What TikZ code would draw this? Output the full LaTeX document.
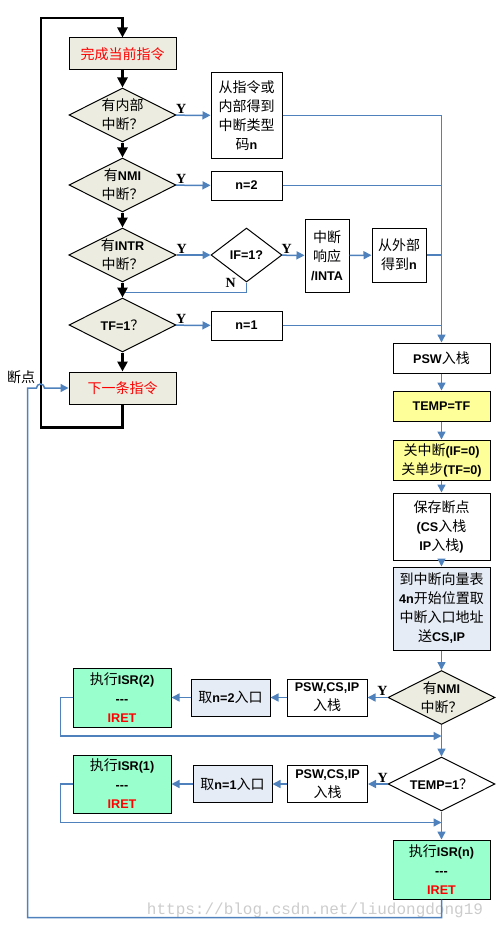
\documentclass[tikz,border=0pt]{standalone}
\usepackage{fontspec}
\setmainfont{Noto Sans CJK SC}
\newfontfamily\lat{Liberation Sans}[Scale=0.9]
\newfontfamily\ser{Liberation Serif}
\newfontfamily\wmk{Liberation Mono}
\newcommand{\la}[1]{{\lat\bfseries #1}}
\usetikzlibrary{shapes.geometric, arrows.meta}
\definecolor{flowblue}{RGB}{79,129,189}
\definecolor{stepgrey}{RGB}{236,236,224}
\definecolor{tempyellow}{RGB}{255,255,153}
\definecolor{vecblue}{RGB}{230,236,245}
\definecolor{isrgreen}{RGB}{153,255,204}

\begin{document}
\begin{tikzpicture}[x=1pt,y=-1pt,>={Triangle[length=8pt,width=8pt]},font=\fontsize{14}{19}\selectfont,
	box/.style={rectangle, draw, line width=1pt, align=center, inner sep=1pt},
	col/.style={box, minimum width=97pt},
	cond/.style={diamond, draw, line width=1pt, align=center, inner sep=0pt, aspect=2, minimum width=107pt, minimum height=54pt},
	blk/.style={line width=2.6pt, -{Triangle[length=10pt,width=10pt]}},
	blu/.style={flowblue, line width=1.5pt},
	yes/.style={font=\fontsize{14}{14}\selectfont\ser\bfseries, text=black, inner sep=1pt}]
		\useasboundingbox (0,0) rectangle (501,931);

		% left column
		\node[box, fill=stepgrey, text=red, minimum width=107pt, minimum height=32pt	] (DONE) 		at (122.5,54)		{完成当前指令};
		\node[cond, fill=stepgrey														] (INT_IN) 		at (122.5,115)		{有内部\\中断？};
		\node[cond, fill=stepgrey														] (NMI) 		at (122.5,185)		{有\la{NMI}\\中断？};
		\node[cond, fill=stepgrey														] (INTR) 		at (122.5,255)		{有\la{INTR}\\中断？};
		\node[cond, fill=stepgrey														] (TF) 			at (122.5,325)		{\la{TF=1}？};
		\node[box, fill=stepgrey, text=red, minimum width=107pt, minimum height=32pt	] (NEXT) 		at (122.5,388)		{下一条指令};
		\node																			  (BP) 			at (21,377)			{断点};
		\coordinate																		  (LOOP) 		at (41,18);

		% type code
		\node[box, minimum width=71pt, minimum height=85pt							] (TYPE_N) 		at (246.5,115.5)	{从指令或\\内部得到\\中断类型\\码\la{n}};
		\node[box, minimum width=71pt, minimum height=29pt							] (N_2) 		at (246.5,185.5)	{\la{n=2}};
		\node[cond, minimum width=71pt												] (IF) 			at (246.5,255)		{\la{IF=1?}};
		\node[box, minimum width=44pt, minimum height=73pt							] (INTA) 		at (327,255.5)		{中断\\响应\\\la{/INTA}};
		\node[box, minimum width=54pt, minimum height=54pt							] (EXT_N) 		at (399,255)		{从外部\\得到\la{n}};
		\node[box, minimum width=71pt, minimum height=29pt							] (N_1) 		at (246.5,325.5)	{\la{n=1}};

		% right column
		\node[col, minimum height=30pt												] (PSW) 		at (441.5,358)		{\la{PSW}入栈};
		\node[col, minimum height=30pt, fill=tempyellow								] (TEMP) 		at (441.5,406)		{\la{TEMP=TF}};
		\node[col, minimum height=40pt, fill=tempyellow								] (CLR) 		at (441.5,460)		{关中断\la{(IF=0)}\\关单步\la{(TF=0)}};
		\node[col, minimum height=67pt												] (SAVE) 		at (441.5,526.5)	{保存断点\\\la{(CS}入栈\\\la{IP}入栈\la{)}};
		\node[col, minimum height=83pt, fill=vecblue								] (VEC) 		at (441.5,608.5)	{到中断向量表\\\la{4n}开始位置取\\中断入口地址\\送\la{CS,IP}};
		\node[cond, fill=stepgrey														] (NMI_2) 		at (441.5,697.5)	{有\la{NMI}\\中断？};
		\node[cond																		] (TEMP_1) 		at (441.5,784)		{\la{TEMP=1}？};
		\node[col, minimum height=59pt, fill=isrgreen									] (ISR_N) 		at (441.5,869.5)	{执行\la{ISR(n)}\\\la{-{}-{}-}\\\textcolor{red}{\la{IRET}}};

		% bottom rows
		\node[box, minimum width=80pt, minimum height=37pt							] (PUSH_2) 		at (327,697.5)		{\la{PSW,CS,IP}\\入栈};
		\node[box, minimum width=79pt, minimum height=37pt, fill=vecblue				] (ENT_2) 		at (230.5,697.5)	{取\la{n=2}入口};
		\node[box, minimum width=98pt, minimum height=59pt, fill=isrgreen				] (ISR_2) 		at (122,697.5)		{执行\la{ISR(2)}\\\la{-{}-{}-}\\\textcolor{red}{\la{IRET}}};
		\node[box, minimum width=80pt, minimum height=37pt							] (PUSH_1) 		at (327.5,784)		{\la{PSW,CS,IP}\\入栈};
		\node[box, minimum width=79pt, minimum height=37pt, fill=vecblue				] (ENT_1) 		at (232.5,784)		{取\la{n=1}入口};
		\node[box, minimum width=98pt, minimum height=58pt, fill=isrgreen				] (ISR_1) 		at (122,784)		{执行\la{ISR(1)}\\\la{-{}-{}-}\\\textcolor{red}{\la{IRET}}};

		\node[text=gray!40, font=\wmk\fontsize{16}{16}\selectfont					] (WM) 			at (315,910)		{https://blog.csdn.net/liudongdong19};

		\draw[blu]	(IF.south) node[yes, left=9pt]{N} |- ([yshift=-10pt]INTR.south);

		\draw[blk]	(DONE)		edge	(INT_IN)
					(INT_IN)	edge	(NMI)
					(NMI)		edge	(INTR)
					(INTR)		edge	(TF)
					(TF)		edge	(NEXT);
		\draw[blk]	(NEXT.south) -- ++(0,23) -| (LOOP) -| (DONE.north);

		\draw[blu, ->]	(INT_IN)	edge	node[yes, pos=0.15, above]{Y}	(TYPE_N)
						(NMI)		edge	node[yes, pos=0.15, above]{Y}	(N_2)
						(INTR)		edge	node[yes, pos=0.15, above]{Y}	(IF)
						(IF)		edge	node[yes, pos=0.2, above]{Y}	(INTA)
						(INTA)		edge									(EXT_N)
						(TF)		edge	node[yes, pos=0.15, above]{Y}	(N_1)
						(PSW)		edge									(TEMP)
						(TEMP)		edge									(CLR)
						(CLR)		edge									(SAVE)
						(SAVE)		edge									(VEC)
						(VEC)		edge									(NMI_2)
						(NMI_2)		edge	node[yes, pos=0.25, above]{Y}	(PUSH_2)
						(PUSH_2)	edge									(ENT_2)
						(ENT_2)		edge									(ISR_2)
						(NMI_2)		edge									(TEMP_1)
						(TEMP_1)	edge	node[yes, pos=0.25, above]{Y}	(PUSH_1)
						(PUSH_1)	edge									(ENT_1)
						(ENT_1)		edge									(ISR_1)
						(TEMP_1)	edge									(ISR_N);

		\draw[blu, ->]	(TYPE_N.east) -| (PSW.north);
		\draw[blu]		(N_2.east) -- (N_2.east -| PSW.north)
						(EXT_N.east) -- (EXT_N.east -| PSW.north)
						(N_1.east) -- (N_1.east -| PSW.north);
		\draw[blu, ->]	(ISR_2.west) -- ++(-12,0) |- ([yshift=-11pt]NMI_2.south);
		\draw[blu, ->]	(ISR_1.west) -- ++(-12,0) |- ([yshift=-11pt]TEMP_1.south);
		\draw[blu, ->]	(ISR_N.south) -- ++(0,18) -| ([xshift=-41pt]NEXT.west) -- ++(9,0) arc[start angle=180, end angle=0, radius=4pt] -- (NEXT.west);
	\end{tikzpicture}
\end{document}
